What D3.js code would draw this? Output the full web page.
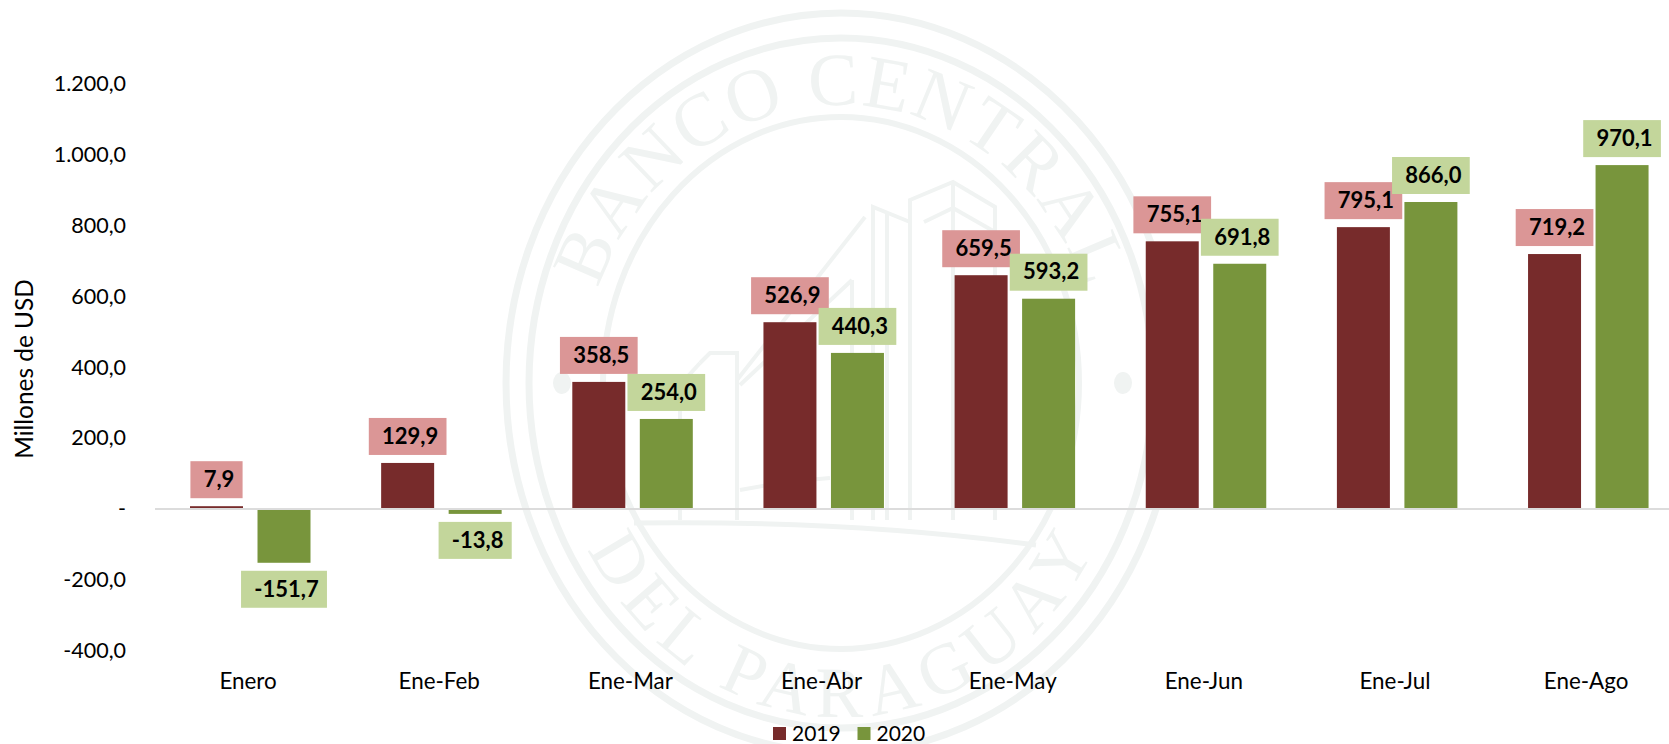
<!DOCTYPE html>
<html><head><meta charset="utf-8">
<script src="https://d3js.org/d3.v7.min.js"></script>
<style>html,body{margin:0;padding:0;background:#fff;overflow:hidden}svg{display:block}text{font-family:Lato,"Open Sans",sans-serif;fill:#000}</style>
</head><body><svg id="c" width="1669" height="744"></svg>
<script>
const categories = ["Enero","Ene-Feb","Ene-Mar","Ene-Abr","Ene-May","Ene-Jun","Ene-Jul","Ene-Ago"];
const seriesNames = ["2019","2020"];
const values2019 = [7.9,129.9,358.5,526.9,659.5,755.1,795.1,719.2];
const values2020 = [-151.7,-13.8,254.0,440.3,593.2,691.8,866.0,970.1];
const yTicks = [-400,-200,0,200,400,600,800,1000,1200];
const barColors = ["#772b2b","#78953c"];
const boxColors = ["#db9696","#c3d69b"];
const axisTitle = "Millones de USD";
const seriesValues = [values2019, values2020];

const svg = d3.select("#c");
const W = 1669, H = 744;
const y = d3.scaleLinear().domain([-400,1200]).range([650.8,83.6]);
const x0 = d3.scaleBand().domain(categories).range([155,1684.2]);
const x1 = d3.scaleBand().domain(seriesNames).range([35,155.5]).paddingInner(0.215);
const loc = d3.formatLocale({decimal:",",thousands:".",grouping:[3],currency:["",""],minus:"-"});
const f1 = loc.format(",.1f");
const fmtTick = v => v === 0 ? "-" : f1(v);

/* watermark seal */
const wmColor = "#f0f3f2";
const wm = svg.append("g").attr("fill","none").attr("stroke",wmColor);
const cx = 841, cy = 383;
[[335,370,7],[312,345,7],[238,266,6]].forEach(([rx,ry,s]) =>
  wm.append("ellipse").attr("cx",cx).attr("cy",cy).attr("rx",rx).attr("ry",ry).attr("stroke-width",s));
[562,1123].forEach(dx => wm.append("ellipse").attr("cx",dx).attr("cy",383).attr("rx",9).attr("ry",11).attr("fill",wmColor).attr("stroke","none"));
const defs = svg.append("defs");
defs.append("path").attr("id","arcTop").attr("d",`M ${cx-258} ${cy} A 258 278 0 0 1 ${cx+258} ${cy}`);
defs.append("path").attr("id","arcBot").attr("d",`M ${cx-292} ${cy} A 292 334 0 0 0 ${cx+292} ${cy}`);
svg.append("text").style("font-family","'Liberation Serif',serif").style("font-size","75px").style("fill",wmColor)
  .append("textPath").attr("href","#arcTop").attr("startOffset","50%").attr("text-anchor","middle")
  .attr("textLength",650).attr("lengthAdjust","spacing").text("BANCO CENTRAL");
svg.append("text").style("font-family","'Liberation Serif',serif").style("font-size","72px").style("fill",wmColor)
  .append("textPath").attr("href","#arcBot").attr("startOffset","50%").attr("text-anchor","middle")
  .attr("textLength",640).attr("lengthAdjust","spacing").text("DEL PARAGUAY");
const bld = [
 [[910,520],[910,200],[953,182],[995,207],[995,520]],
 [[924,222],[953,208],[995,232]],
 [[953,182],[953,520]],
 [[873,520],[873,207],[910,222]],
 [[887,520],[887,214]],
 [[865,217],[737,380]],
 [[852,280],[740,385]],
 [[852,280],[852,520]],
 [[700,363],[710,353],[737,353],[737,520]],
 [[680,520],[680,385],[700,363]],
 [[740,490],[785,482],[830,478]]
];
const ln = d3.line();
bld.forEach(p => wm.append("path").attr("d",ln(p)).attr("stroke-width",4));
wm.append("path").attr("d",`M 634 523 Q 850 520 1036 545`).attr("stroke-width",5);

/* axes */
const yAxis = d3.axisLeft(y).tickValues(yTicks).tickFormat(fmtTick).tickSize(0).tickPadding(0);
const gy = svg.append("g").attr("transform","translate(126,0)").call(yAxis);
gy.select(".domain").remove();
gy.selectAll("text").style("font-size","21.5px");

const xAxis = d3.axisBottom(x0).tickSize(0).tickPadding(0);
const gx = svg.append("g").attr("transform","translate(-2.5,673)").call(xAxis);
gx.select(".domain").remove();
gx.selectAll("text").style("font-size","22.4px");

svg.append("text").attr("transform",`translate(33,369) rotate(-90)`).attr("text-anchor","middle")
  .style("font-size","24.4px").text(axisTitle);

/* bars */
seriesNames.forEach((s,si) => {
  svg.append("g").selectAll("rect").data(categories).join("rect")
    .attr("x",c => x0(c)+x1(s)).attr("width",x1.bandwidth())
    .attr("y",(c,i) => Math.min(y(seriesValues[si][i]),y(0)))
    .attr("height",(c,i) => Math.abs(y(seriesValues[si][i])-y(0)))
    .attr("fill",barColors[si]);
});
svg.append("line").attr("x1",x0.range()[0]).attr("x2",W).attr("y1",y(0)).attr("y2",y(0))
  .attr("stroke","#dcdcdc").attr("stroke-width",2);

/* data labels */
const boxH = 37, gap = 8;
seriesNames.forEach((s,si) => {
  const g = svg.append("g");
  categories.forEach((c,i) => {
    const v = seriesValues[si][i];
    const cxb = x0(c)+x1(s)+x1.bandwidth()/2;
    const top = v >= 0 ? y(v)-gap-boxH : y(v)+gap;
    const r = g.append("rect").attr("y",top).attr("height",boxH).attr("fill",boxColors[si]);
    const t = g.append("text").attr("x",cxb+2.5).attr("y",top+boxH/2).attr("dy",".33em")
      .attr("text-anchor","middle").style("font-size","22px").style("font-weight",700).text(f1(v));
    const w = t.node().getComputedTextLength()+21.5;
    r.attr("x",cxb-w/2).attr("width",w);
  });
});

/* legend */
const leg = svg.append("g").attr("transform","translate(773,727)");
seriesNames.forEach((s,i) => {
  const g = leg.append("g").attr("transform",`translate(${i*84.5},0)`);
  g.append("rect").attr("width",13).attr("height",13).attr("fill",barColors[i]);
  g.append("text").attr("x",19).attr("y",14).style("font-size","21px").text(s);
});
</script></body></html>
